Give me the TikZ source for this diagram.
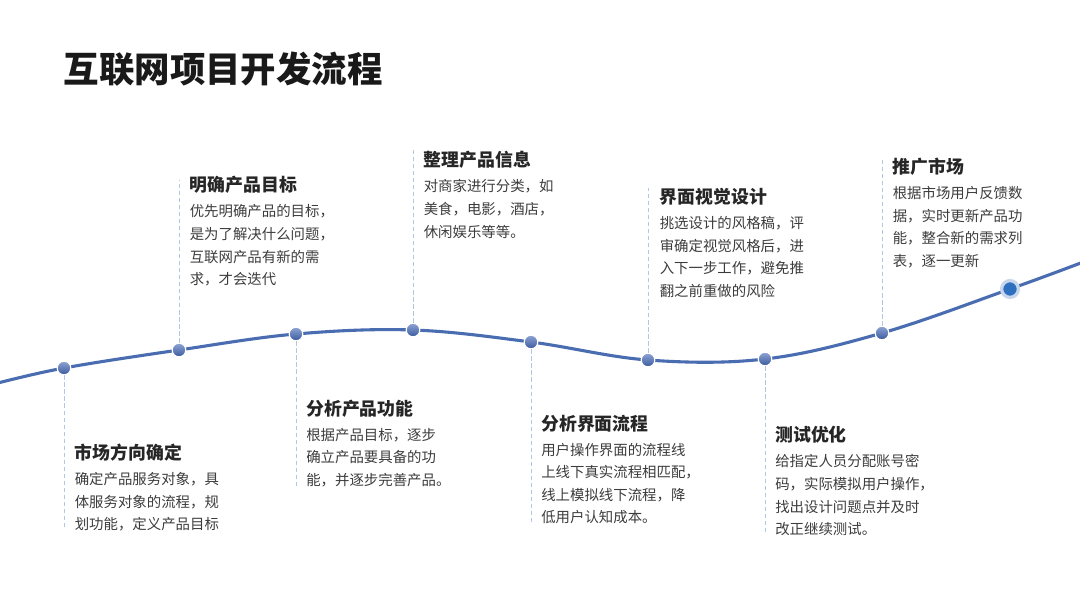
\documentclass[tikz,border=0pt]{standalone}
\usepackage{fontspec}
\setmainfont{Noto Sans CJK SC}
\usetikzlibrary{positioning}
\definecolor{curveblue}{RGB}{74,108,176}
\definecolor{dottop}{RGB}{142,164,212}
\definecolor{dotbottom}{RGB}{58,90,158}
\definecolor{dotblue}{RGB}{46,112,192}
\definecolor{halo}{RGB}{200,214,236}
\definecolor{guideblue}{RGB}{178,198,230}
\definecolor{headgray}{RGB}{38,38,38}
\definecolor{textgray}{RGB}{60,60,60}

\begin{document}
\begin{tikzpicture}[x=0.025cm, y=-0.025cm,
  curve/.style={curveblue, line width=2.2pt, line cap=round},
  dot/.style={circle, inner sep=0pt, minimum size=0.34cm, top color=dottop, bottom color=dotbottom, draw=white, line width=0.8pt},
  lastdot/.style={circle, inner sep=0pt, minimum size=0.42cm, fill=dotblue, draw=halo, line width=2.35pt},
  guide/.style={guideblue, line width=0.6pt, dash pattern=on 3pt off 2pt},
  head/.style={anchor=west, inner sep=0pt, text=headgray, font=\fontsize{12.7}{15}\selectfont\bfseries},
  body/.style={inner sep=0pt, align=left, text=textgray, font=\fontsize{10.25}{16.1}\selectfont}]
  \useasboundingbox (0,0) rectangle (1080,608);
  % Title
  \node[anchor=west, inner sep=0pt, text=black!90, font=\fontsize{25.2}{30}\selectfont\bfseries] (title) at (63.5,69.5) {互联网项目开发流程};
  % Points on the curve
  \foreach \i/\x/\y in {
    0/-6/384, 1/64/368, 2/179/350, 3/296/334, 4/413/330, 5/531/342,
    6/648/360, 7/765/359, 8/882/333, 9/1010/289, 10/1086/261
  } {
    \coordinate (p\i) at (\x,\y);
  }
  % Ends of the dashed guides
  \foreach \i/\x/\y in {
    1/64/530, 2/179/180, 3/296/487, 4/413/150, 5/531/522, 6/648/188, 7/765/533, 8/882/157
  } {
    \coordinate (e\i) at (\x,\y);
  }
  % Curve
  \draw[curve] plot[smooth, tension=0.6] coordinates {(p0) (p1) (p2) (p3) (p4) (p5) (p6) (p7) (p8) (p9) (p10)};
  % Dots
  \foreach \i in {1,...,8} {
    \node[dot] (d\i) at (p\i) {};
    \draw[guide] (d\i) -- (e\i);
  }
  \node[lastdot] (d9) at (p9) {};
  % Stage 1
  \node[head] (t1) at (74.5,452.7) {市场方向确定};
  \node[body, below right=0.26cm and 0cm of t1.south west] (b1) {确定产品服务对象，具\\体服务对象的流程，规\\划功能，定义产品目标};
  % Stage 2
  \node[head] (t2) at (189.5,185) {明确产品目标};
  \node[body, below right=0.26cm and 0cm of t2.south west] (b2) {优先明确产品的目标，\\是为了解决什么问题，\\互联网产品有新的需\\求，才会迭代};
  % Stage 3
  \node[head] (t3) at (306,408.3) {分析产品功能};
  \node[body, below right=0.26cm and 0cm of t3.south west] (b3) {根据产品目标，逐步\\确立产品要具备的功\\能，并逐步完善产品。};
  % Stage 4
  \node[head] (t4) at (423.5,160) {整理产品信息};
  \node[body, below right=0.26cm and 0cm of t4.south west] (b4) {对商家进行分类，如\\美食，电影，酒店，\\休闲娱乐等等。};
  % Stage 5
  \node[head] (t5) at (541,423.3) {分析界面流程};
  \node[body, below right=0.26cm and 0cm of t5.south west] (b5) {用户操作界面的流程线\\上线下真实流程相匹配，\\线上模拟线下流程，降\\低用户认知成本。};
  % Stage 6
  \node[head] (t6) at (659.5,196.7) {界面视觉设计};
  \node[body, below right=0.26cm and 0cm of t6.south west] (b6) {挑选设计的风格稿，评\\审确定视觉风格后，进\\入下一步工作，避免推\\翻之前重做的风险};
  % Stage 7
  \node[head] (t7) at (775,435) {测试优化};
  \node[body, below right=0.26cm and 0cm of t7.south west] (b7) {给指定人员分配账号密\\码，实际模拟用户操作，\\找出设计问题点并及时\\改正继续测试。};
  % Stage 8
  \node[head] (t8) at (892.5,166.7) {推广市场};
  \node[body, below right=0.26cm and 0cm of t8.south west] (b8) {根据市场用户反馈数\\据，实时更新产品功\\能，整合新的需求列\\表，逐一更新};
\end{tikzpicture}
\end{document}
